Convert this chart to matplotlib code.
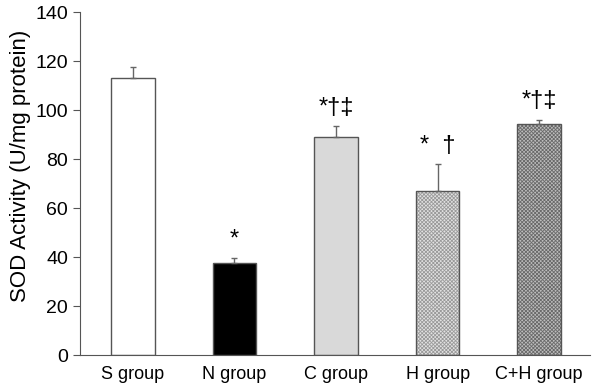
import matplotlib
matplotlib.use('Agg')
import matplotlib.pyplot as plt

plt.rcParams['font.family'] = ['Liberation Sans', 'DejaVu Sans']
plt.rcParams['hatch.linewidth'] = 0.6

groups = ['S group', 'N group', 'C group', 'H group', 'C+H group']
sod = [113, 37.5, 89, 67, 94.3]
sod_err = [4.5, 2.2, 4.5, 11, 1.7]
marks = ['', '*', '*†‡', '*  †', '*†‡']
faces = ['white', 'black', '#d9d9d9', '#e2e2e2', '#bdbdbd']
hatches = [None, None, None, 'xxxxxxxxx', 'xxxxxxxxx']
hatch_cols = [None, None, None, '#9a9a9a', '#6a6a6a']

fig = plt.figure(figsize=(5.93, 3.88), dpi=100)
ax = fig.add_axes([0.135, 0.085, 0.86, 0.884])

xs = range(len(groups))
for i in xs:
    if hatches[i]:
        ax.bar(i, sod[i], width=0.43, color=faces[i], edgecolor=hatch_cols[i],
               hatch=hatches[i], linewidth=0)
        ax.bar(i, sod[i], width=0.43, fill=False, edgecolor='#555555', linewidth=1)
    else:
        ax.bar(i, sod[i], width=0.43, color=faces[i], edgecolor='#555555', linewidth=1)
    ax.errorbar(i, sod[i], yerr=[[0], [sod_err[i]]], ecolor='#666666',
                elinewidth=1, capsize=2, capthick=1, fmt='none')
    if marks[i]:
        ax.text(i, sod[i] + sod_err[i] + 3, marks[i], ha='center', va='bottom',
                fontsize=17)

ax.set_ylim(0, 140)
ax.set_xlim(-0.52, 4.5)
ax.set_yticks(range(0, 141, 20))
ax.set_xticks(list(xs))
ax.set_xticklabels(groups, fontsize=13)
ax.tick_params(axis='x', length=0, pad=8)
ax.tick_params(axis='y', labelsize=14, length=5, color='#555555', direction='out')
ax.set_ylabel('SOD Activity (U/mg protein)', fontsize=16)
ax.yaxis.set_label_coords(-0.096, 0.55)
for s in ['top', 'right']:
    ax.spines[s].set_visible(False)
for s in ['left', 'bottom']:
    ax.spines[s].set_color('#555555')

plt.savefig('out.png', dpi=100)
